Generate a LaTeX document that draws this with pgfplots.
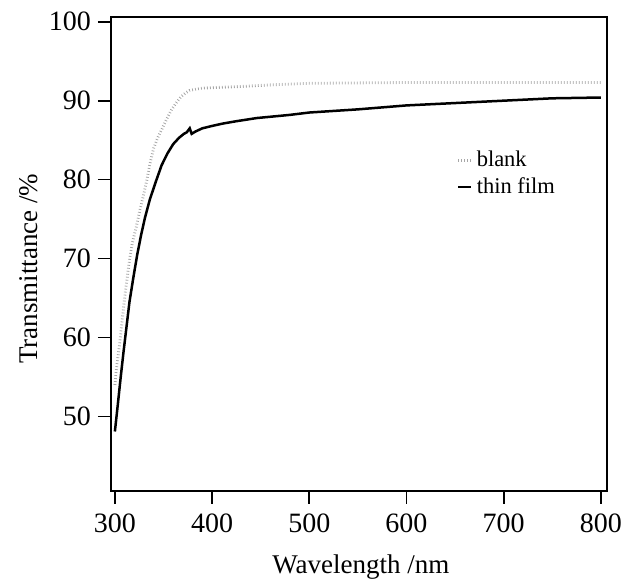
\documentclass[border=0pt]{standalone}
\usepackage{fontspec}
\setmainfont{Liberation Serif}
\usepackage{pgfplots}
\pgfplotsset{compat=1.18}

\pgfplotstableread{
wl T
300 48.1
303 51.5
306 55.0
309 58.3
312 61.4
315 64.5
319 67.6
323 70.5
327 73.0
331 75.2
336 77.5
342 79.7
348 81.8
354 83.3
360 84.5
366 85.3
371 85.8
374 86.0
377 86.5
379 85.8
383 86.1
390 86.5
400 86.8
411 87.1
425 87.4
446 87.8
480 88.2
500 88.5
550 88.9
600 89.4
650 89.7
700 90.0
750 90.3
800 90.4
}\filmdata

\pgfplotstableread{
wl T
300 54.0
302 56.5
305 59.3
308 62.8
311 66.0
315 69.8
318 72.0
322 74.0
326 76.3
329 77.8
333 80.0
336 82.0
340 84.0
344 85.3
348 86.3
353 87.6
358 88.8
363 89.7
368 90.5
373 91.0
377 91.3
385 91.5
391 91.6
410 91.7
430 91.8
460 92.0
500 92.2
600 92.3
700 92.3
800 92.3
}\blankdata

\begin{document}
\begin{tikzpicture}
\path[use as bounding box] (-55.5pt,-44.65pt) rectangle (263.5pt,245.35pt);
\begin{axis}[
    at={(0,0)}, anchor=south west,
    scale only axis,
    width=247.85pt, height=236.7pt,
    xmin=296, xmax=806,
    ymin=40.6, ymax=100.56,
    xtick={300,400,...,800},
    ytick={50,60,...,100},
    tick align=outside,
    xtick pos=bottom, ytick pos=left,
    major tick length=6.5pt,
    axis line style={line width=0.85pt},
    every tick/.style={black, line width=0.85pt},
    /pgf/number format/assume math mode=true,
    tick label style={font=\fontsize{14}{16}\selectfont},
    xticklabel style={yshift=-1.5pt},
    xlabel={Wavelength /nm},
    ylabel={Transmittance /\%},
    every axis x label/.style={at={(axis description cs:0.504,-0.1606)}, anchor=center,
        font=\fontsize{13.5}{15}\selectfont},
    every axis y label/.style={at={(axis description cs:-0.1654,0.469)}, rotate=90, anchor=center,
        font=\fontsize{13.5}{15}\selectfont},
    legend style={draw=none, fill=none, at={(0.685,0.735)}, anchor=north west,
        font=\fontsize{11.25}{12.5}\selectfont, row sep=0pt,
        /tikz/every even column/.append style={column sep=3pt}},
    legend cell align=left,
    legend image code/.code={\draw[#1] (-2pt,0pt) -- (4.5pt,0pt);},
]
\addplot[black!35, line width=1.4pt, dash pattern=on 0.4pt off 1.1pt] table[x=wl, y=T] {\blankdata};
\addlegendentry{blank}
\addplot[black, line width=1.25pt] table[x=wl, y=T] {\filmdata};
\addlegendentry{thin film}
\end{axis}
\end{tikzpicture}
\end{document}
